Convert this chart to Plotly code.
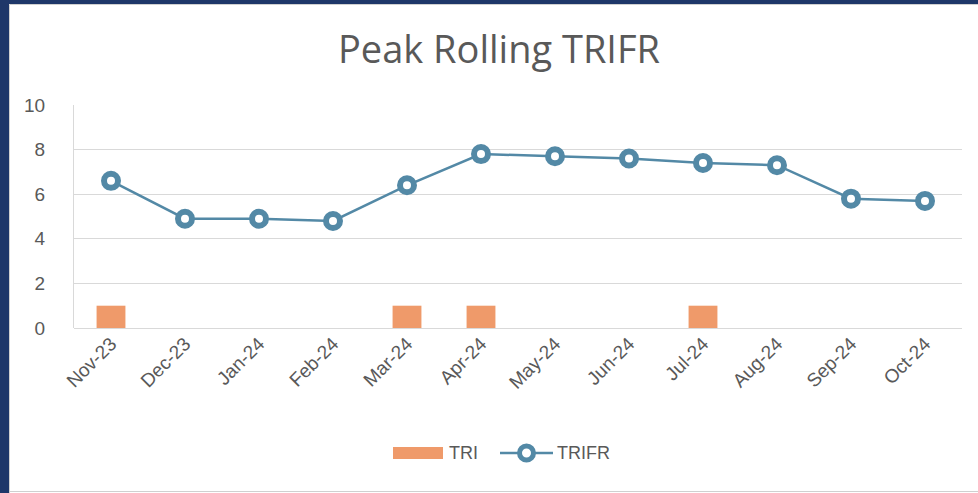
import plotly.graph_objects as go

months = ["Nov-23", "Dec-23", "Jan-24", "Feb-24", "Mar-24", "Apr-24",
          "May-24", "Jun-24", "Jul-24", "Aug-24", "Sep-24", "Oct-24"]
tri = [1, 0, 0, 0, 1, 1, 0, 0, 1, 0, 0, 0]
trifr = [6.6, 4.9, 4.9, 4.8, 6.4, 7.8, 7.7, 7.6, 7.4, 7.3, 5.8, 5.7]
y_ticks = [0, 2, 4, 6, 8, 10]

W, H = 978, 493
L, R, T, B = 74, 16, 105, 165
pw, ph = W - L - R, H - T - B

TEXT = "#595959"
GRID = "#D9D9D9"
ORANGE = "#EF9A6A"
TEAL = "#5389A6"
NAVY = "#1E3769"

fig = go.Figure()
fig.add_trace(go.Bar(
    x=months, y=tri, name="TRI", marker=dict(color=ORANGE, line=dict(width=0)),
    width=0.39, showlegend=False,
))
fig.add_trace(go.Scatter(
    x=months, y=trifr, name="TRIFR", mode="lines+markers",
    line=dict(color=TEAL, width=2.5), showlegend=False,
    marker=dict(symbol="circle", size=14, color="white",
                line=dict(color=TEAL, width=6)),
))


def px_x(px):
    return (px - L) / pw


def px_y(py):
    return (H - B - py) / ph


shapes = [
    # navy frame strips (left and top)
    dict(type="rect", xref="paper", yref="paper", layer="below",
         x0=px_x(0), x1=px_x(9), y0=px_y(H), y1=px_y(0),
         fillcolor=NAVY, line=dict(width=0)),
    dict(type="rect", xref="paper", yref="paper", layer="below",
         x0=px_x(0), x1=px_x(W), y0=px_y(4), y1=px_y(0),
         fillcolor=NAVY, line=dict(width=0)),
    dict(type="line", xref="paper", yref="paper", layer="below",
         x0=px_x(9.5), x1=px_x(9.5), y0=px_y(H), y1=px_y(4.5),
         line=dict(color="#D0D0D0", width=1)),
    dict(type="line", xref="paper", yref="paper", layer="below",
         x0=px_x(9.5), x1=px_x(W), y0=px_y(4.5), y1=px_y(4.5),
         line=dict(color="#D0D0D0", width=1)),
    dict(type="line", xref="paper", yref="paper", layer="below",
         x0=px_x(9.5), x1=px_x(W), y0=px_y(491.5), y1=px_y(491.5),
         line=dict(color="#D0D0D0", width=1)),
    # legend: TRI swatch
    dict(type="rect", xref="paper", yref="paper",
         x0=px_x(393), x1=px_x(443), y0=px_y(459), y1=px_y(447),
         fillcolor=ORANGE, line=dict(width=0)),
    # legend: TRIFR line + ring
    dict(type="line", xref="paper", yref="paper",
         x0=px_x(500), x1=px_x(553), y0=px_y(453), y1=px_y(453),
         line=dict(color=TEAL, width=2.5)),
    dict(type="circle", xref="paper", yref="paper",
         x0=px_x(519.5), x1=px_x(533.5), y0=px_y(460), y1=px_y(446),
         fillcolor="white", line=dict(color=TEAL, width=5)),
]

annotations = [
    dict(text="TRI", xref="paper", yref="paper", x=px_x(447), y=px_y(453),
         xanchor="left", yanchor="middle", showarrow=False,
         font=dict(size=18, color=TEXT)),
    dict(text="TRIFR", xref="paper", yref="paper", x=px_x(555), y=px_y(453),
         xanchor="left", yanchor="middle", showarrow=False,
         font=dict(size=18, color=TEXT)),
]

fig.update_layout(
    width=W, height=H,
    margin=dict(l=L, r=R, t=T, b=B, pad=0),
    paper_bgcolor="white", plot_bgcolor="white",
    font=dict(family="Liberation Sans, Arial, sans-serif", color=TEXT, size=18),
    title=dict(text="Peak Rolling TRIFR", x=499 / W, xanchor="center",
               y=1 - 50 / H, yanchor="middle", yref="container",
               font=dict(family="Open Sans, sans-serif", size=38, color=TEXT)),
    showlegend=False,
    bargap=0.61,
    shapes=shapes,
    annotations=annotations,
    xaxis=dict(type="category", range=[-0.5, len(months) - 0.5],
               tickangle=-45, showgrid=False, showline=False,
               ticks="", tickfont=dict(size=19, color=TEXT), zeroline=False),
    yaxis=dict(range=[0, 10], tickvals=y_ticks, showgrid=True, gridcolor=GRID,
               gridwidth=1, showline=True, linecolor=GRID, linewidth=1,
               zeroline=True, zerolinecolor=GRID, zerolinewidth=1,
               ticks="", ticklabelstandoff=24,
               tickfont=dict(size=19, color=TEXT)),
)

fig.write_html("out.html", config={"displayModeBar": False},
               post_script="document.body.style.margin='0';")
